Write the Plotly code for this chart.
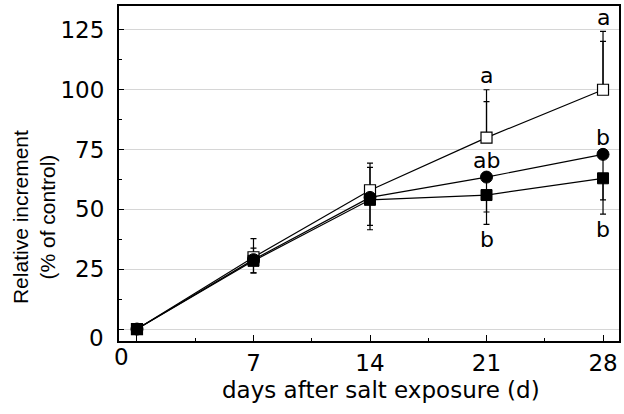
import plotly.graph_objects as go

# Sampling days after salt exposure
days = [0, 7, 14, 21, 28]

# Relative increment (% of control) for the three treatments
open_sq = [0, 30, 58, 80, 100]
circle = [0, 29, 55, 63.5, 73]
filled_sq = [0, 28.5, 54, 56, 63]

# Error bar lengths (upward for the open squares, downward for the filled symbols)
open_sq_err_up = [0, 7.8, 11.3, 20, 24.4]
open_sq_err_up_inner = [0, 3.8, 9.6, 15, 20.2]
circle_err_down = [0, 5.5, 11.7, 14.6, 25]
filled_sq_err_down = [0, 5, 12.5, 12.3, 9]

# Significance letters: (day, text, position)
letters = [
    (21, "a", "above_open"),
    (28, "a", "above_open"),
    (21, "ab", "above_circle"),
    (28, "b", "above_circle"),
    (21, "b", "below"),
    (28, "b", "below"),
]

x_ticks = [0, 7, 14, 21, 28]
y_ticks = [0, 25, 50, 75, 100, 125]

FONT = "DejaVu Sans, Verdana, sans-serif"
TITLE_FONT = "Liberation Sans, Arial, sans-serif"
FS = 23
BLACK = "#000000"

fig = go.Figure()

zeros = [0] * len(days)

# second set of caps on the open squares (drawn first so the symbols cover it)
fig.add_trace(go.Scatter(
    x=days, y=open_sq, mode="markers",
    marker=dict(size=1, color="rgba(0,0,0,0)"),
    error_y=dict(type="data", symmetric=False, array=open_sq_err_up_inner, arrayminus=zeros,
                 color=BLACK, thickness=1.2, width=3),
    showlegend=False, hoverinfo="skip",
))
# open squares
fig.add_trace(go.Scatter(
    x=days, y=open_sq, mode="lines+markers",
    line=dict(color=BLACK, width=1.2),
    marker=dict(symbol="square", size=11, color="white", line=dict(color=BLACK, width=1.2)),
    error_y=dict(type="data", symmetric=False, array=open_sq_err_up, arrayminus=zeros,
                 color=BLACK, thickness=1.2, width=3),
    showlegend=False,
))
# filled circles
fig.add_trace(go.Scatter(
    x=days, y=circle, mode="lines+markers",
    line=dict(color=BLACK, width=1.2),
    marker=dict(symbol="circle", size=12, color=BLACK, line=dict(color=BLACK, width=1)),
    error_y=dict(type="data", symmetric=False, array=zeros, arrayminus=circle_err_down,
                 color=BLACK, thickness=1.2, width=3),
    showlegend=False,
))
# filled squares
fig.add_trace(go.Scatter(
    x=days, y=filled_sq, mode="lines+markers",
    line=dict(color=BLACK, width=1.2),
    marker=dict(symbol="square", size=11, color=BLACK, line=dict(color=BLACK, width=1)),
    error_y=dict(type="data", symmetric=False, array=zeros, arrayminus=filled_sq_err_down,
                 color=BLACK, thickness=1.2, width=3),
    showlegend=False,
))

# letters sit above the open-square bar, above the circle, or below the lowest bar
for day, txt, where in letters:
    i = days.index(day)
    if where == "above_open":
        y, shift = open_sq[i] + open_sq_err_up[i], 14
    elif where == "above_circle":
        y, shift = circle[i], 17
    else:
        y, shift = min(circle[i] - circle_err_down[i], filled_sq[i] - filled_sq_err_down[i]), -15
    fig.add_annotation(x=day, y=y, text=txt, showarrow=False, xref="x", yref="y",
                       yanchor="middle", yshift=shift,
                       font=dict(family=FONT, size=22, color=BLACK))

# origin labels nudged off the corner
fig.add_annotation(x=0, y=0, text="0", showarrow=False, xref="x", yref="y",
                   xshift=-15, yshift=-28, font=dict(family=FONT, size=FS, color=BLACK))
fig.add_annotation(x=0, y=0, text="0", showarrow=False, xref="paper", yref="y",
                   xanchor="right", xshift=-13, yshift=-9, font=dict(family=FONT, size=FS, color=BLACK))

# axis titles
fig.add_annotation(x=0.523, y=-0.146, xref="paper", yref="paper", text="days after salt exposure (d)",
                   showarrow=False, xanchor="center", yanchor="middle",
                   font=dict(family=FONT, size=FS, color=BLACK))
fig.add_annotation(x=-0.17, y=0.37, xref="paper", yref="paper",
                   text="Relative increment<br>(% of control)", textangle=-90,
                   showarrow=False, xanchor="center", yanchor="middle",
                   font=dict(family=TITLE_FONT, size=21, color=BLACK))

fig.update_xaxes(
    range=[-1.08, 28.96], tickvals=x_ticks, ticktext=["" if v == 0 else str(v) for v in x_ticks],
    ticks="inside", ticklen=6, tickwidth=1.2, tickcolor=BLACK,
    minor=dict(dtick=3.5, tick0=0, ticks="inside", ticklen=3, tickwidth=1, tickcolor=BLACK),
    showgrid=False, zeroline=False, showline=True, linecolor=BLACK, linewidth=2, mirror=True,
    tickfont=dict(family=FONT, size=FS, color=BLACK),
)
fig.update_yaxes(
    range=[-5, 135], tickvals=y_ticks, ticktext=["" if v == 0 else str(v) for v in y_ticks],
    ticks="inside", ticklen=5, tickwidth=1.2, tickcolor=BLACK,
    minor=dict(dtick=12.5, tick0=0, ticks="inside", ticklen=3, tickwidth=1, tickcolor=BLACK),
    showgrid=True, gridcolor="#d6d6d6", gridwidth=1,
    zeroline=False, showline=True, linecolor=BLACK, linewidth=2, mirror=True,
    tickfont=dict(family=FONT, size=FS, color=BLACK), ticklabelstandoff=8,
)

fig.update_layout(
    width=624, height=414,
    margin=dict(l=119, r=3, t=6, b=73),
    plot_bgcolor="white", paper_bgcolor="white",
    showlegend=False,
)

fig.write_html("out.html")
